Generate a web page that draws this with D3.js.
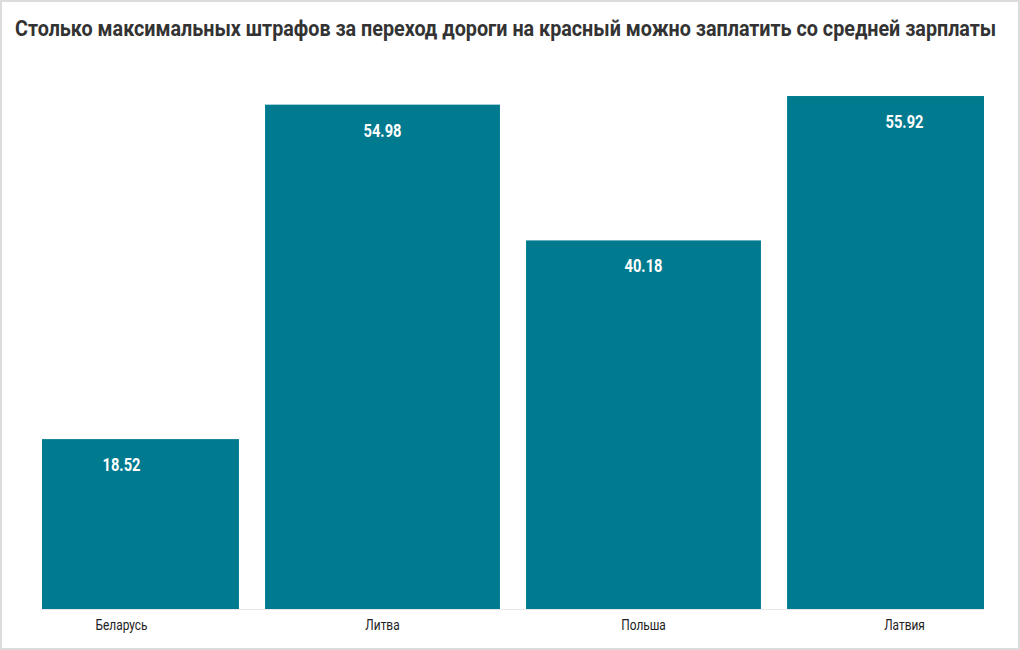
<!DOCTYPE html>
<html><head><meta charset="utf-8">
<script src="https://cdn.jsdelivr.net/npm/d3@7"></script>
<style>
html,body{margin:0;padding:0;background:#fff;}
svg{display:block;}
</style></head>
<body>
<script>
const title = "Столько максимальных штрафов за переход дороги на красный можно заплатить со средней зарплаты";
const categories = ["Беларусь", "Литва", "Польша", "Латвия"];
const values = [18.52, 54.98, 40.18, 55.92];
const labels = ["18.52", "54.98", "40.18", "55.92"];

const W = 1020, H = 650;
const svg = d3.select("body").append("svg").attr("width", W).attr("height", H);

svg.append("rect").attr("x", 1).attr("y", 1).attr("width", W - 2).attr("height", H - 2)
  .attr("fill", "#fff").attr("stroke", "#dcdcdc").attr("stroke-width", 2);

const t = svg.append("text").attr("x", 0).attr("y", 0)
  .attr("font-family", "Roboto, sans-serif").attr("font-weight", 700).attr("font-size", 22)
  .attr("fill", "#333").text(title);
const natural = t.node().getComputedTextLength();
t.attr("transform", `translate(15,36) scale(${982 / natural},1)`);

const plotL = 42, plotR = 984, base = 609;
const x = d3.scaleBand().domain(categories).range([-9, 1035]).paddingInner(0.1).paddingOuter(0.05);
const y = d3.scaleLinear().domain([0, 60]).range([base, 58.6]);

svg.append("defs").append("clipPath").attr("id", "clip")
  .append("rect").attr("x", plotL).attr("y", 0).attr("width", plotR - plotL).attr("height", H);

svg.append("line").attr("x1", plotL).attr("x2", plotR).attr("y1", base + 0.5).attr("y2", base + 0.5)
  .attr("stroke", "#e8e8e8").attr("stroke-width", 1);

const data = categories.map((c, i) => ({c, v: values[i], l: labels[i]}));

svg.append("g").attr("clip-path", "url(#clip)").selectAll("rect").data(data).join("rect")
  .attr("x", d => x(d.c)).attr("width", x.bandwidth())
  .attr("y", d => y(d.v)).attr("height", d => y(0) - y(d.v))
  .attr("fill", "#007a8f");

svg.append("g").selectAll("text").data(data).join("text")
  .attr("x", d => x(d.c) + x.bandwidth() / 2).attr("y", d => y(d.v) + 32)
  .attr("text-anchor", "middle").attr("font-family", "Roboto, sans-serif")
  .attr("font-weight", 700).attr("font-size", 17.5).attr("fill", "#fff")
  .attr("textLength", d => d.l.length * 7.6).attr("lengthAdjust", "spacingAndGlyphs")
  .text(d => d.l);

const xAxis = d3.axisBottom(x).tickSize(0).tickPadding(0);
const ax = svg.append("g").attr("transform", `translate(0,${base})`).call(xAxis);
ax.select(".domain").remove();
ax.selectAll("text").attr("font-family", "Roboto, sans-serif").attr("font-size", 14)
  .attr("fill", "#222").attr("dy", 0).attr("y", 21)
  .style("transform", "scaleX(0.85)")
  .style("transform-box", "fill-box").style("transform-origin", "center");
</script>
</body></html>
